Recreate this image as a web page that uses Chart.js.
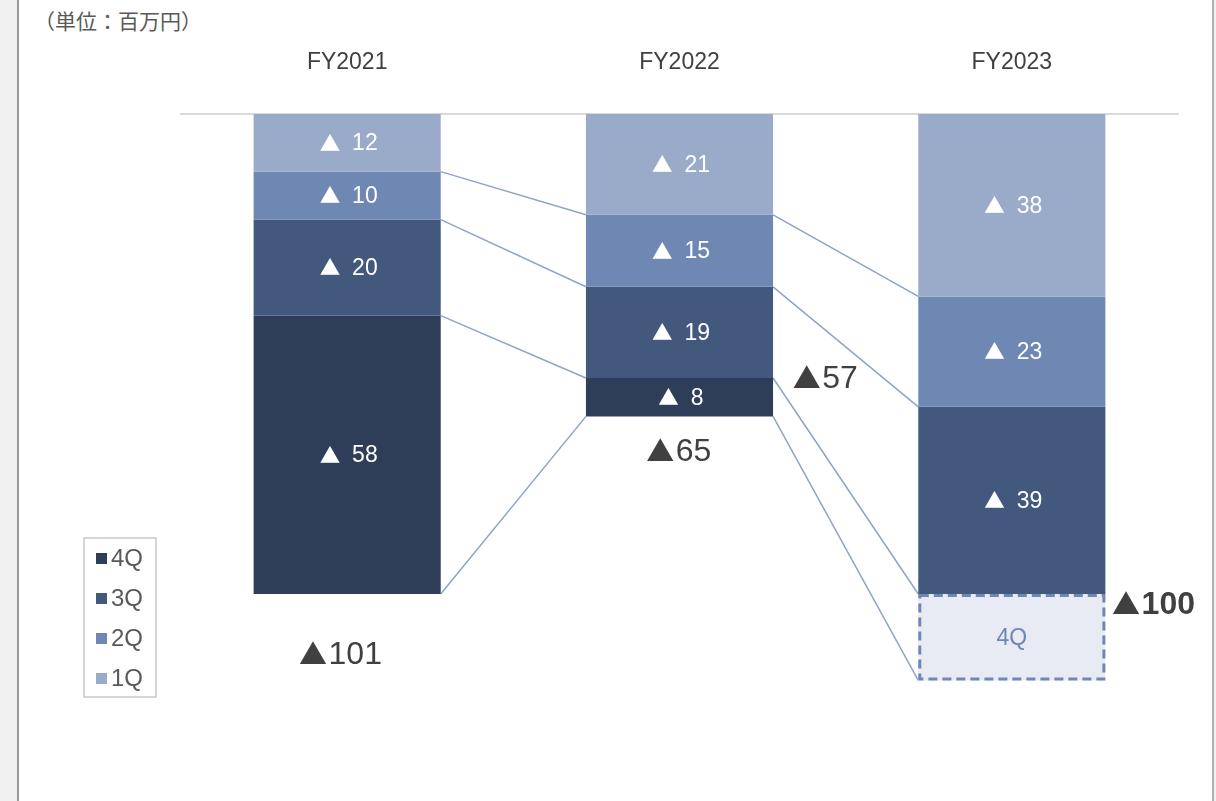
<!DOCTYPE html>
<html lang="ja">
<head>
  <meta charset="UTF-8">
  <title>四半期別 損失推移</title>
  <script src="https://cdn.jsdelivr.net/npm/chart.js"></script>
  <style>
    html, body {
      margin: 0;
      width: 1216px;
      height: 801px;
      overflow: hidden;
      background: #f0f0f0;
    }
    .page {
      position: absolute;
      left: 17px;
      top: 0;
      width: 1193px;
      height: 801px;
      background: #fff;
      border-left: 2px solid #9a9a9a;
      border-right: 2px solid #b0b0b0;
    }
    .unit {
      position: absolute;
      left: 34px;
      top: 6px;
      font-family: "Noto Sans CJK JP", sans-serif;
      font-size: 21px;
      line-height: 28px;
      color: #595959;
    }
    canvas {
      position: absolute;
      left: 0;
      top: 0;
    }
  </style>
</head>
<body>
  <div class="page"></div>
  <div class="unit">（単位：百万円）</div>
  <canvas id="chart" width="1216" height="801"></canvas>

  <script>
    // data (百万円, losses shown with ▲)
    const years = ["FY2021", "FY2022", "FY2023"];
    const q1 = [12, 21, 38];
    const q2 = [10, 15, 23];
    const q3 = [20, 19, 39];
    const q4 = [58, 8, null];
    const q4Plan = [null, null, 18];   // 4Q not yet reported (dashed box)
    const totals = [101, 65, 100];
    const thruQ3 = [null, 57, null];

    const quarterNames = ["1Q", "2Q", "3Q", "4Q"];
    const colors = ["#9aabca", "#6e87b3", "#43587d", "#2e3d58"];
    const lineColor = "#8fa3c8";
    const font = '"Liberation Sans", Arial, sans-serif';
    const triFont = '"Noto Sans CJK JP", "DejaVu Sans", sans-serif';

    function barBounds(chart, i) {
      // cumulative pixel boundaries of bar i after each quarter
      const y = chart.scales.y;
      const series = [q1, q2, q3, i === 2 ? q4Plan : q4];
      let sum = 0;
      return series.map(s => { sum += s[i] || 0; return y.getPixelForValue(sum); });
    }

    // "▲" + number; the triangle comes from the CJK font so it keeps its full size
    function triLabel(ctx, value, x, y, size, triSize, align, weight, gap) {
      ctx.font = weight + " " + triSize + "px " + triFont;
      const tw = ctx.measureText("▲").width * 0.9;
      ctx.font = weight + " " + size + "px " + font;
      const nw = ctx.measureText(String(value)).width;
      const w = tw + gap + nw;
      const x0 = align === "center" ? x - w / 2 : x;
      ctx.textAlign = "left";
      ctx.font = weight + " " + triSize + "px " + triFont;
      ctx.fillText("▲", x0 - triSize * 0.05, y);
      ctx.font = weight + " " + size + "px " + font;
      ctx.fillText(String(value), x0 + tw + gap, y + 1);
    }

    const overlay = {
      id: "overlay",
      beforeDatasetsDraw(chart) {
        const ctx = chart.ctx;
        const meta = chart.getDatasetMeta(0);
        ctx.save();
        ctx.strokeStyle = lineColor;
        ctx.lineWidth = 1.5;
        for (let i = 0; i < years.length - 1; i++) {
          const a = meta.data[i], b = meta.data[i + 1];
          const ya = barBounds(chart, i), yb = barBounds(chart, i + 1);
          for (let k = 0; k < 4; k++) {
            ctx.beginPath();
            ctx.moveTo(a.x + a.width / 2, ya[k]);
            ctx.lineTo(b.x - b.width / 2, yb[k]);
            ctx.stroke();
          }
        }
        ctx.restore();
      },
      afterDatasetsDraw(chart) {
        const ctx = chart.ctx;
        ctx.save();
        ctx.textBaseline = "middle";

        // values inside segments
        ctx.fillStyle = "#fff";
        for (let d = 0; d < 4; d++) {
          const meta = chart.getDatasetMeta(d);
          const vals = chart.data.datasets[d].data;
          meta.data.forEach((el, i) => {
            if (vals[i] == null) return;
            triLabel(ctx, vals[i], el.x + 2, (el.y + el.base) / 2, 23, 20.5, "center", "normal", 13);
          });
        }

        // 4Q planned box
        const pm = chart.getDatasetMeta(4).data[2];
        const left = pm.x - pm.width / 2;
        ctx.strokeStyle = "#6e87b3";
        ctx.lineWidth = 3;
        ctx.setLineDash([9, 5]);
        ctx.strokeRect(left + 1.5, pm.base + 1.5, pm.width - 3, pm.y - pm.base - 3);
        ctx.setLineDash([]);
        ctx.fillStyle = "#6e87b3";
        ctx.textAlign = "center";
        ctx.font = "23px " + font;
        ctx.fillText("4Q", pm.x, (pm.y + pm.base) / 2 + 1);

        // totals
        const m0 = chart.getDatasetMeta(0).data;
        const b = years.map((_, i) => barBounds(chart, i));
        ctx.fillStyle = "#404040";
        triLabel(ctx, totals[0], m0[0].x - 6, b[0][3] + 60, 32, 28, "center", "normal", 3);
        triLabel(ctx, totals[1], m0[1].x, b[1][3] + 35, 32, 28, "center", "normal", 3);
        triLabel(ctx, thruQ3[1], m0[1].x + m0[1].width / 2 + 21, b[1][2], 32, 28, "left", "normal", 3);
        triLabel(ctx, totals[2], m0[2].x + m0[2].width / 2 + 8, b[2][2] + 10, 32, 28, "left", "bold", 3);

        // legend (4Q on top)
        ctx.strokeStyle = "#c8c8c8";
        ctx.lineWidth = 1.5;
        ctx.strokeRect(84, 538, 72, 159);
        ctx.textAlign = "left";
        ctx.font = "24px " + font;
        for (let k = 0; k < 4; k++) {
          const q = 3 - k;
          const yy = 558 + k * 40;
          ctx.fillStyle = colors[q];
          ctx.fillRect(96, yy - 5, 11, 11);
          ctx.fillStyle = "#595959";
          ctx.fillText(quarterNames[q], 111, yy + 1);
        }
        ctx.restore();
      }
    };

    const dsBase = { borderWidth: 0, categoryPercentage: 1, barPercentage: 0.563 };

    new Chart(document.getElementById("chart"), {
      type: "bar",
      data: {
        labels: years,
        datasets: [
          { ...dsBase, label: "1Q", data: q1, backgroundColor: colors[0] },
          { ...dsBase, label: "2Q", data: q2, backgroundColor: colors[1] },
          { ...dsBase, label: "3Q", data: q3, backgroundColor: colors[2] },
          { ...dsBase, label: "4Q", data: q4, backgroundColor: colors[3] },
          { ...dsBase, label: "4Q(予定)", data: q4Plan, backgroundColor: "#e8ebf3" }
        ]
      },
      options: {
        responsive: false,
        animation: false,
        layout: { padding: { left: 181, right: 38, top: 18.4, bottom: 15 } },
        plugins: { legend: { display: false }, tooltip: { enabled: false } },
        scales: {
          x: {
            position: "top",
            stacked: true,
            grid: { display: false },
            border: { display: true, color: "#d9d9d9", width: 2 },
            ticks: { color: "#404040", font: { family: font, size: 23 }, padding: 30 }
          },
          y: {
            display: false,
            stacked: true,
            reverse: true,
            min: 0,
            max: 140
          }
        }
      },
      plugins: [overlay]
    });
  </script>
</body>
</html>
